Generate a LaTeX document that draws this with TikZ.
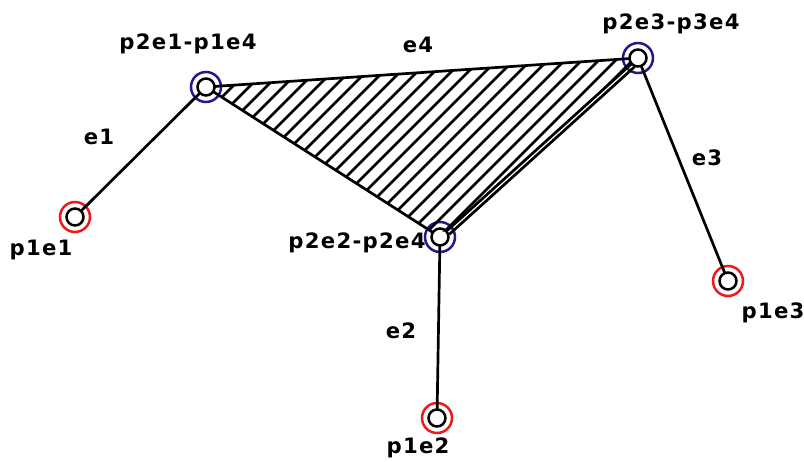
\documentclass[tikz,border=0pt]{standalone}
\usepackage{fontspec}
\newfontfamily\cadfont{DejaVu Sans}[LetterSpace=6,BoldFont={DejaVu Sans Bold}]
\definecolor{jtblue}{HTML}{24188A}
\definecolor{endred}{HTML}{F01818}
\usetikzlibrary{calc}

\begin{document}
\begin{tikzpicture}[x=0.5pt,y=-0.5pt,
  ring/.style={circle,draw=#1,line width=1.25pt,minimum size=15pt,inner sep=0pt,
    path picture={\draw[black,line width=1.25pt] (path picture bounding box.center) circle (4.25pt);}},
  edge/.style={line width=1.35pt,shorten <=4.25pt,shorten >=4.25pt},
  side/.style={line width=1.35pt},
  hatch/.style={line width=1.25pt},
  lbl/.style={font=\cadfont\bfseries\fontsize{10.6}{12}\selectfont,inner sep=0pt}]
  \useasboundingbox (0,0) rectangle (804,461);
  \node[ring=jtblue] (j1) at (206,87) {};
  \node[ring=jtblue] (j2) at (440,237) {};
  \node[ring=jtblue] (j3) at (638,58) {};
  \node[ring=endred] (p1e1) at (75,217) {};
  \node[ring=endred] (p1e2) at (437,418) {};
  \node[ring=endred] (p1e3) at (728,281) {};
  \coordinate (t1) at ($(j1.center)!4.25pt!(j3.center)$);
  \coordinate (t2) at ($(j1.center)!4.25pt!(j2.center)$);
  \coordinate (t3) at ($(j2.center)!4.25pt!(j1.center)$);
  \coordinate (t4) at ($(j2.center)!4.25pt!(j3.center)$);
  \coordinate (t5) at ($(j3.center)!4.25pt!(j2.center)$);
  \coordinate (t6) at ($(j3.center)!4.25pt!(j1.center)$);
  \begin{scope}
    \clip (t1) -- (t6) -- (t5) -- (t4) -- (t3) -- (t2) -- cycle;
    \foreach \c in {302,319,...,710}
      \draw[hatch] (\c-300,300) -- ++(300,-300);
  \end{scope}
  \draw[side] (t1) -- (t6);
  \draw[side] (t2) -- (t3);
  \draw[side] (t5) -- (t4);
  \draw[side] ([shift={(3,3)}]t5) -- ([shift={(3,3)}]t4);
  \draw[edge] (j1.center) -- (p1e1.center);
  \draw[edge] (j2.center) -- (p1e2.center);
  \draw[edge] (j3.center) -- (p1e3.center);
  \node[lbl] (l-j1) at (188,44) {p2e1-p1e4};
  \node[lbl] (l-j2) at (357,243) {p2e2-p2e4};
  \node[lbl] (l-j3) at (671,24) {p2e3-p3e4};
  \node[lbl] (l-p1e1) at (41,250) {p1e1};
  \node[lbl] (l-p1e2) at (418,448) {p1e2};
  \node[lbl] (l-p1e3) at (773,313) {p1e3};
  \node[lbl] (l-e1) at (99,137) {e1};
  \node[lbl] (l-e2) at (401,331) {e2};
  \node[lbl] (l-e3) at (707,158) {e3};
  \node[lbl] (l-e4) at (418,45) {e4};
\end{tikzpicture}
\end{document}
